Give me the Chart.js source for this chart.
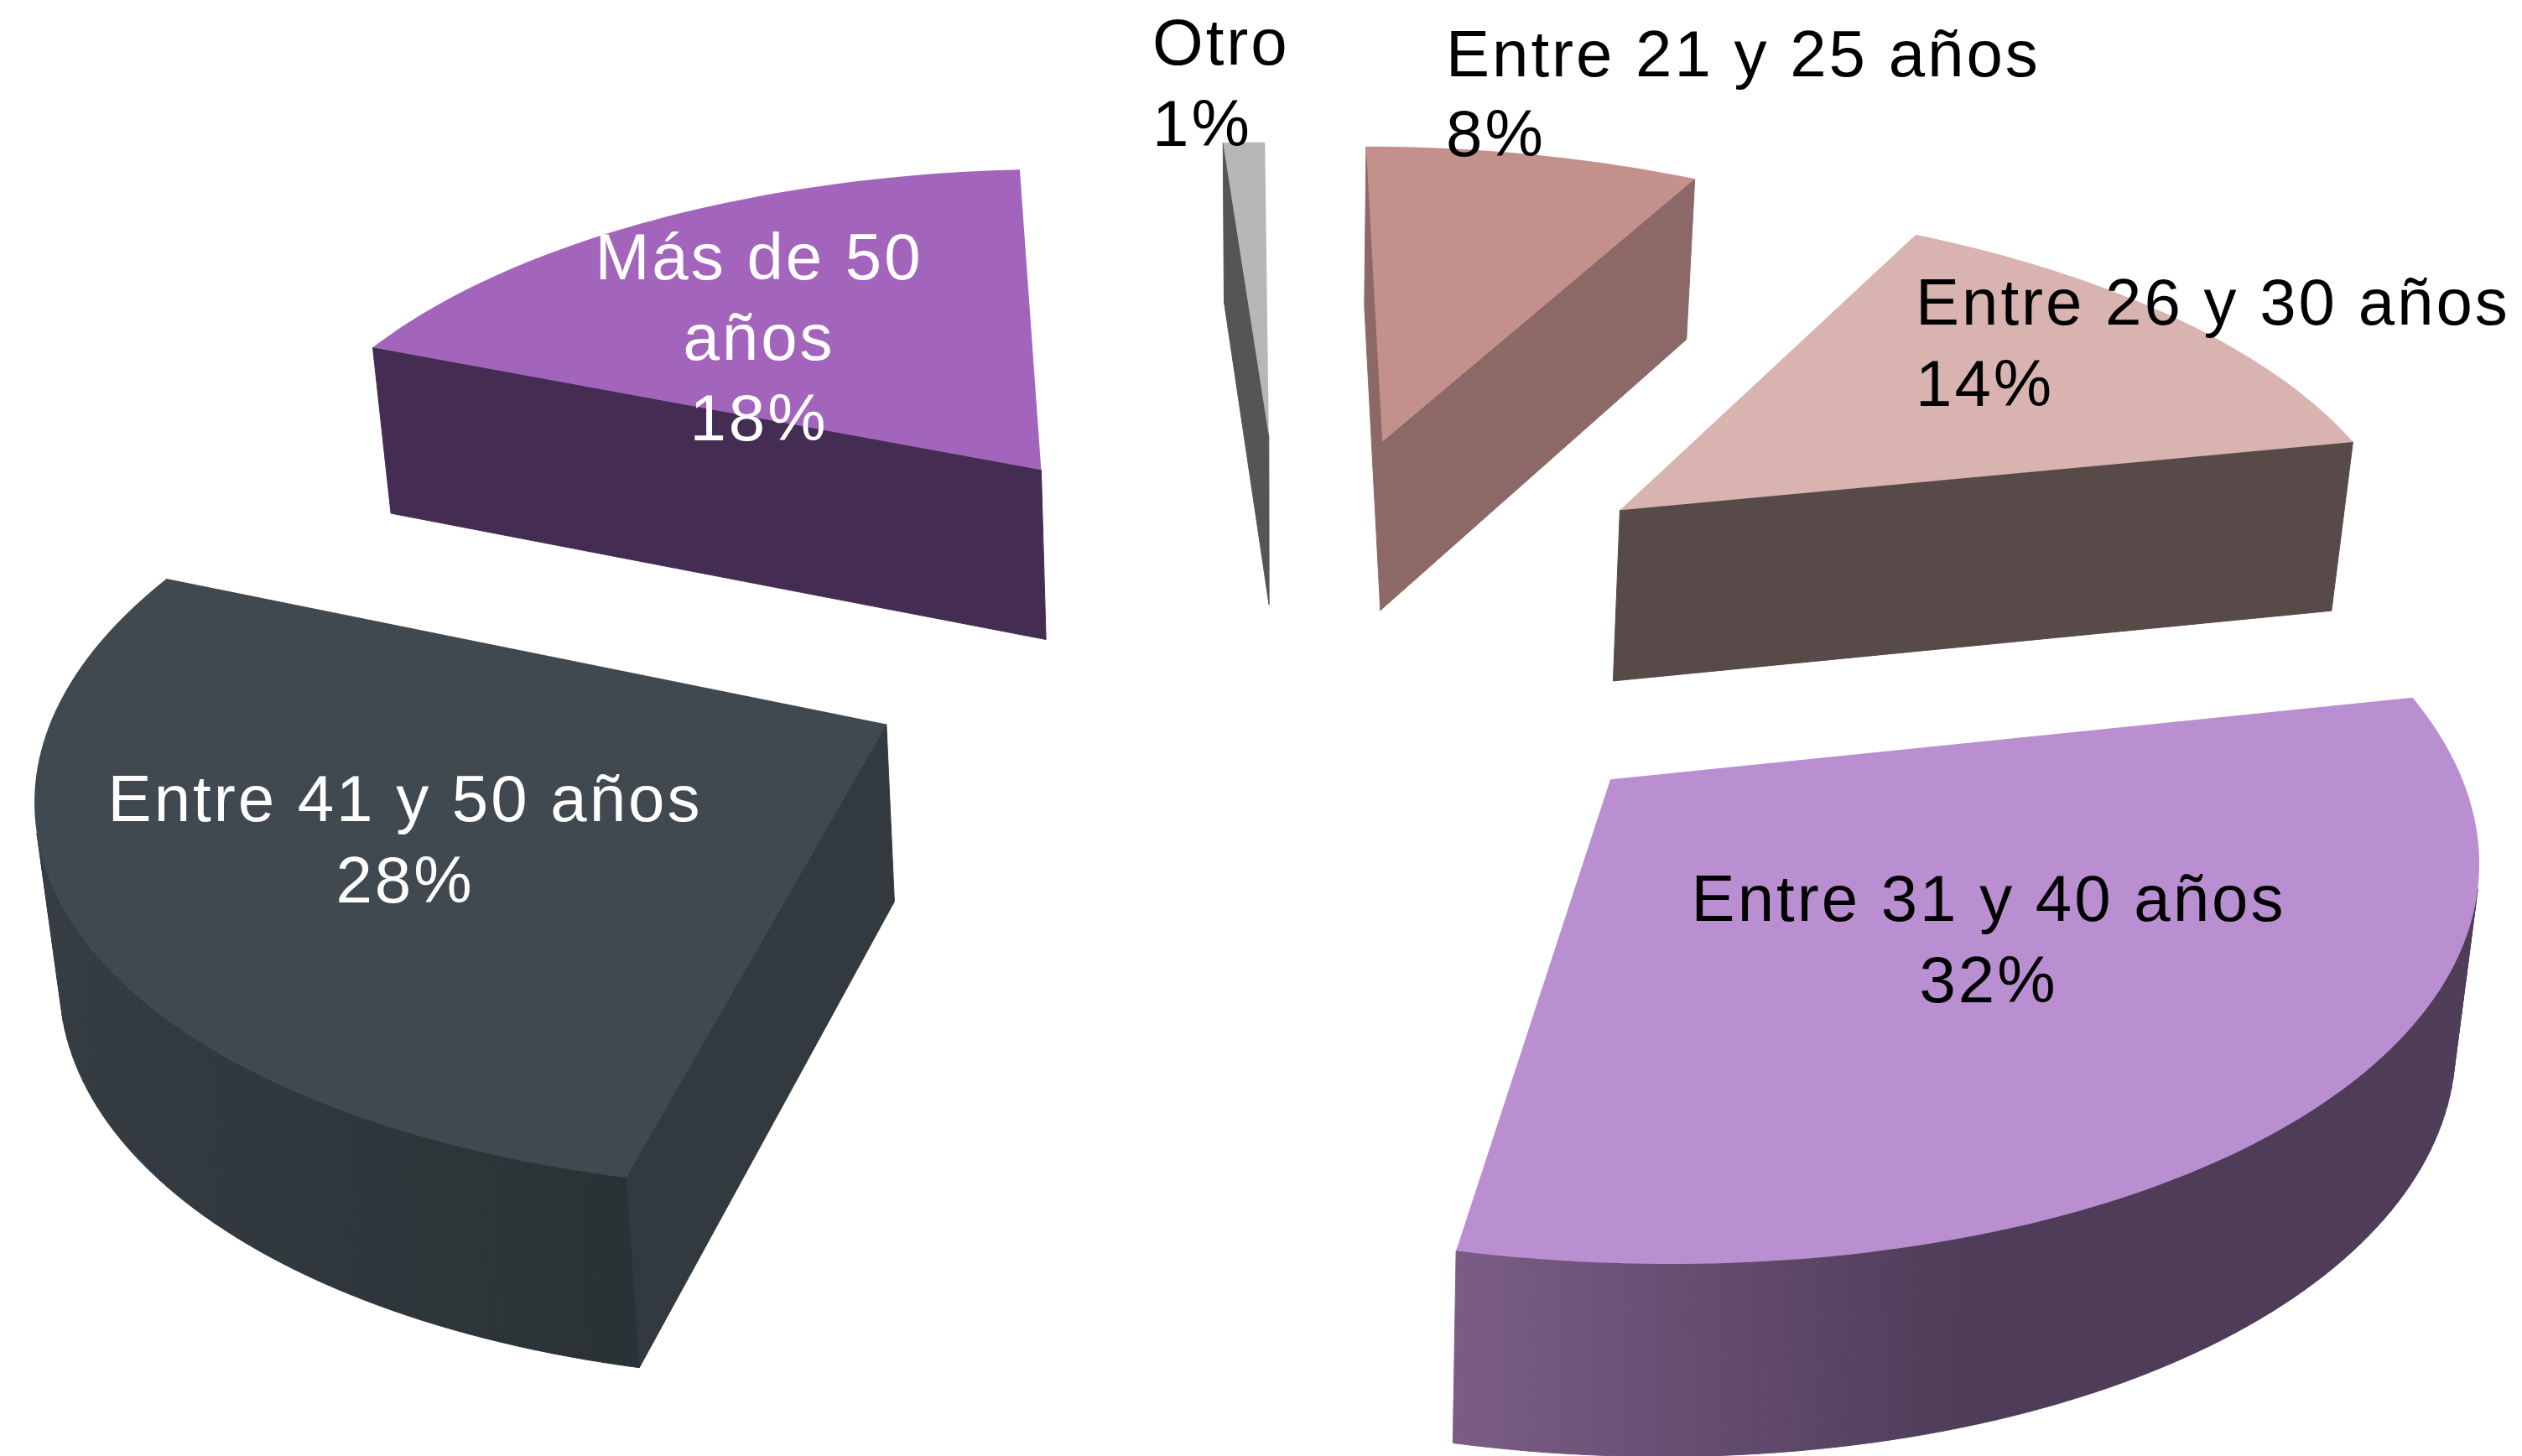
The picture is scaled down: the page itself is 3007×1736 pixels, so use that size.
<!DOCTYPE html>
<html>
<head>
<meta charset="utf-8">
<style>
html, body { margin: 0; padding: 0; background: #fff; }
#wrap { width: 3007px; height: 1736px; }
</style>
<script src="https://cdn.jsdelivr.net/npm/chart.js@4"></script>
</head>
<body>
<div id="wrap"><canvas id="Chart" width="3007" height="1736"></canvas></div>
<script>
var categories = ['Entre 21 y 25 años', 'Entre 26 y 30 años', 'Entre 31 y 40 años', 'Entre 41 y 50 años', 'Más de 50 años', 'Otro'];
var percents = [8, 14, 32, 28, 18, 1];
var topColors = ['#C4908B', '#D8B3AF', '#B98FD2', '#40494F', '#A364BC', '#B7B7B7'];
var cutColors = ['#8C6967', '#584A49', '#4E3C58', '#323A40', '#442C52', '#555555'];
var rimColors = [['#8C6967'], ['#584A49'], ['#7B5C85', '#4E3C58', '#4E3C58'], ['#353D43', '#2B3235'], ['#442C52'], ['#555555']];
var labelLines = [['Entre 21 y 25 años', '8%'], ['Entre 26 y 30 años', '14%'], ['Entre 31 y 40 años', '32%'], ['Entre 41 y 50 años', '28%'], ['Más de 50', 'años', '18%'], ['Otro', '1%']];
var labelColors = ['#000', '#000', '#000', '#fff', '#fff', '#000'];
// left/center x, first baseline, line height
var labelPlace = [
	{ align: 'left', x: 1724, y: 91, lh: 95 },
	{ align: 'left', x: 2284, y: 387, lh: 97 },
	{ align: 'center', x: 2371, y: 1098, lh: 97 },
	{ align: 'center', x: 483, y: 979, lh: 97 },
	{ align: 'center', x: 905, y: 333, lh: 96 },
	{ align: 'left', x: 1374, y: 77, lh: 97 }
];

// camera for the tilted, exploded pie
var cam = { x0: 1532, y0: 747, a: 965, d: 450, h: 208, skew: 8, g: 0.13, shrink: 0.02, explode: 0.54 };

function project(u, v, z) {
	var w = 1 - cam.g * v;
	return {
		x: cam.x0 + (cam.a * u * (1 - cam.shrink * z) + cam.skew * v) / w,
		y: cam.y0 + cam.d * v / w + cam.h * z / Math.sqrt(w)
	};
}

function poly(ctx, pts, fill) {
	ctx.beginPath();
	pts.forEach(function (p, i) { i ? ctx.lineTo(p.x, p.y) : ctx.moveTo(p.x, p.y); });
	ctx.closePath();
	ctx.fillStyle = fill;
	ctx.fill();
}

function area(pts) {
	var s = 0;
	pts.forEach(function (p, i) {
		var q = pts[(i + 1) % pts.length];
		s += p.x * q.y - q.x * p.y;
	});
	return s / 2;
}

var pie3d = {
	id: 'pie3d',
	beforeDatasetsDraw: function (chart) {
		var ctx = chart.ctx;
		var arcs = chart.getDatasetMeta(0).data;
		ctx.save();
		arcs.forEach(function (arc, idx) {
			var s = arc.startAngle, e = arc.endAngle, mid = (s + e) / 2;
			var ax = cam.explode * Math.cos(mid), ay = cam.explode * Math.sin(mid);
			var steps = Math.max(4, Math.ceil((e - s) / 0.02));
			var ring = [];
			for (var i = 0; i <= steps; i++) {
				var t = s + (e - s) * i / steps;
				ring.push({ u: ax + Math.cos(t), v: ay + Math.sin(t) });
			}
			var apex = { u: ax, v: ay };
			var outline = [apex].concat(ring);
			var rimXs = ring.map(function (p) { return project(p.u, p.v, 0).x; });
			var grad = ctx.createLinearGradient(Math.min.apply(null, rimXs), 0, Math.max.apply(null, rimXs), 0);
			var stops = rimColors[idx];
			stops.forEach(function (c, k) { grad.addColorStop(stops.length > 1 ? k / (stops.length - 1) : 0, c); });

			outline.forEach(function (p, i) {
				var q = outline[(i + 1) % outline.length];
				var quad = [project(p.u, p.v, 0), project(q.u, q.v, 0), project(q.u, q.v, 1), project(p.u, p.v, 1)];
				if (area(quad) >= 0) return;
				var isCut = i === 0 || i === outline.length - 1;
				var fill = isCut ? cutColors[idx] : grad;
				poly(ctx, quad, fill);
				ctx.strokeStyle = fill;
				ctx.lineWidth = 1;
				ctx.stroke();
			});
			poly(ctx, outline.map(function (p) { return project(p.u, p.v, 0); }), arc.options.backgroundColor);
		});
		ctx.restore();
		return false;
	},
	afterDraw: function (chart) {
		var ctx = chart.ctx;
		ctx.save();
		ctx.font = '78px "Liberation Sans"';
		ctx.letterSpacing = '3px';
		ctx.textBaseline = 'alphabetic';
		labelLines.forEach(function (lines, idx) {
			var pl = labelPlace[idx];
			ctx.textAlign = pl.align;
			ctx.fillStyle = labelColors[idx];
			lines.forEach(function (line, n) { ctx.fillText(line, pl.x, pl.y + n * pl.lh); });
		});
		ctx.restore();
	}
};

new Chart(document.getElementById('Chart').getContext('2d'), {
	type: 'pie',
	data: {
		labels: categories,
		datasets: [{ label: 'Edad', data: percents, backgroundColor: topColors, borderWidth: 0 }]
	},
	options: {
		responsive: false,
		animation: false,
		devicePixelRatio: 1,
		plugins: { legend: { display: false }, tooltip: { enabled: false } }
	},
	plugins: [pie3d]
});
</script>
</body>
</html>
